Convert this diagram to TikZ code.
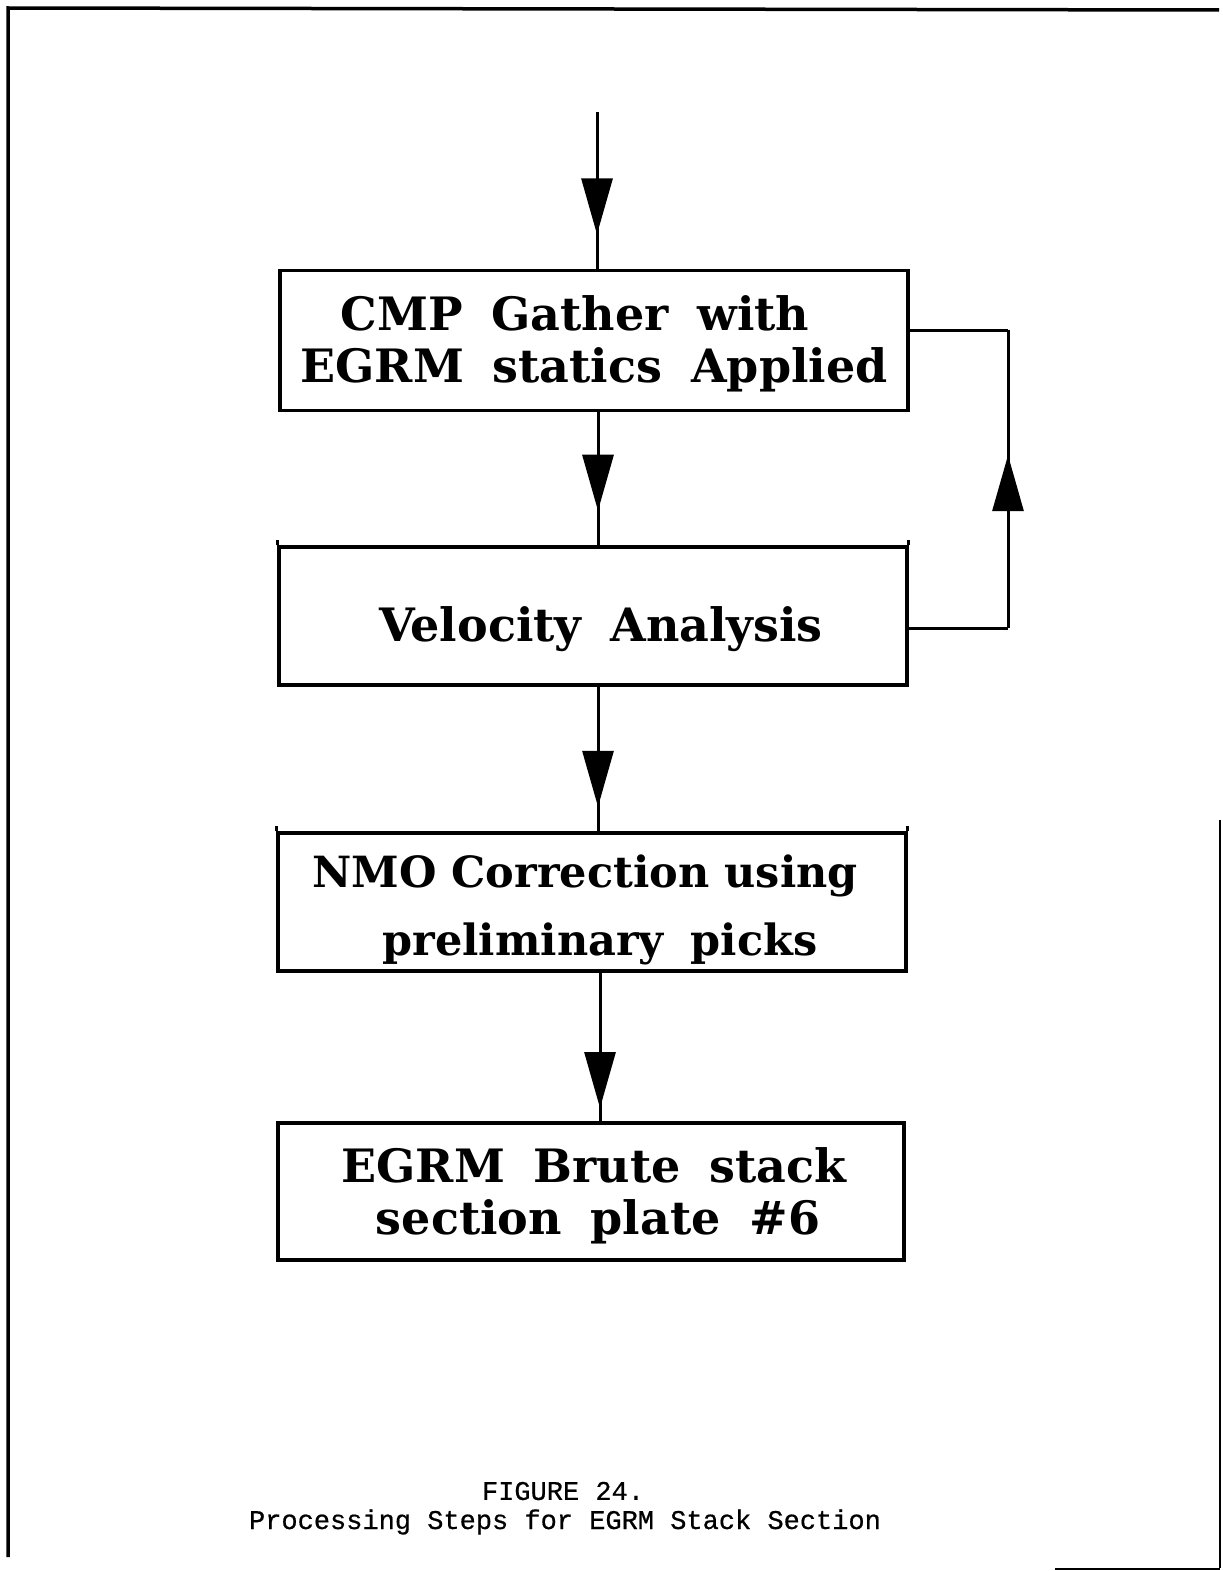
\documentclass[tikz,border=0pt]{standalone}
\usepackage{fontspec}
\setmainfont{DejaVu Serif}[WordSpace=1.8]
\newfontfamily\nmofont{DejaVu Serif}[WordSpace=1.0]
\newfontfamily\capfont{Liberation Mono}[FakeBold=0.6]
\usetikzlibrary{arrows.meta,decorations.markings}
\newcommand{\lowerby}[2]{\raisebox{-#1}[\height][\depth]{#2}}
\tikzset{
  box/.style={draw, line width=3.2pt, minimum width=628pt, minimum height=140pt,
    inner sep=0pt, align=center, font=\bfseries\fontsize{46}{52}\selectfont},
  conn/.style={line width=3pt},
  midarr/.style={postaction={decorate}, decoration={markings,
    mark=at position #1 with {\arrow{Triangle[width=31pt,length=56pt]}}}},
  tick/.style={line width=2.6pt},
  captxt/.style={font=\capfont\fontsize{27}{30}\selectfont, inner sep=0pt},
}
\begin{document}
\begin{tikzpicture}[x=1pt,y=-1pt]
\useasboundingbox (0,0) rectangle (1223,1571);
% page frame (partial, as scanned)
\draw[line width=3.5pt] (8,1557) -- (8,8) -- (1219,10);
\draw[line width=2.5pt] (1220,820) -- (1220,1568);
\draw[line width=2pt] (1055,1569) -- (1220,1569);

\coordinate (start) at (597,112);
\node[box] (b1) at (594,340.5) {\lowerby{6pt}{\begin{tabular}{@{}c@{}}\hspace*{-38pt}CMP Gather with\\EGRM statics Applied\end{tabular}}};
\node[box, minimum height=138pt] (b2) at (593,616) {\lowerby{13pt}{\hspace*{16pt}Velocity Analysis}};
\node[box, minimum height=138pt] (b3) at (592,902) {\lowerby{10pt}{\fontsize{43}{48}\selectfont\begin{tabular}{@{}c@{}}\hspace*{-14pt}{\nmofont\bfseries NMO Correction using}\\[20pt]\hspace*{16pt}preliminary picks\end{tabular}}};
\node[box, minimum height=137pt, minimum width=626pt] (b4) at (591,1191.5) {\lowerby{7pt}{\begin{tabular}{@{}c@{}}\hspace*{6pt}EGRM Brute stack\\\hspace*{14pt}section plate \#6\end{tabular}}};

% corner ticks
\draw[tick] (b2.north west) -- ++(0,-5);
\draw[tick] (b2.north east) -- ++(0,-5);
\draw[tick] (b3.north west) -- ++(0,-5);
\draw[tick] (b3.north east) -- ++(0,-5);

% connectors
\draw[conn, midarr=0.78] (start) -- (b1.north -| start);
\draw[conn, midarr=0.74] (b1.south -| 598,0) -- (b2.north -| 598,0);
\draw[conn, midarr=0.83] (b2.south -| 598,0) -- (b3.north -| 598,0);
\draw[conn, midarr=0.91] (b3.south -| 600,0) -- (b4.north -| 600,0);

\coordinate (fbR) at (1008,628);
\coordinate (fbT) at (1008,330);
\draw[conn] (b2.east |- fbR) -- (fbR);
\draw[conn, midarr=0.58] (fbR) -- (fbT);
\draw[conn] (fbT) -- (b1.east |- fbT);

% caption
\node[captxt] (cap1) at (563,1491) {FIGURE 24.};
\node[captxt] (cap2) at (565,1522) {Processing Steps for EGRM Stack Section};
\end{tikzpicture}
\end{document}
